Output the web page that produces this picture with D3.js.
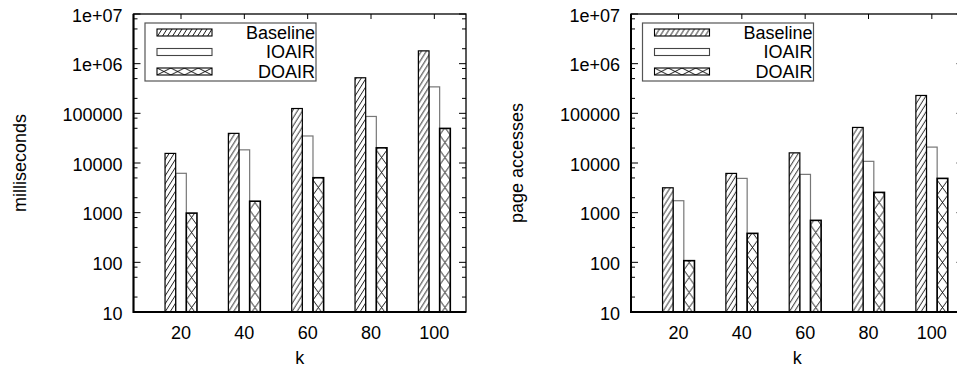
<!DOCTYPE html>
<html>
<head>
<meta charset="utf-8">
<script src="https://cdn.jsdelivr.net/npm/d3@7"></script>
<style>
  html, body { margin: 0; padding: 0; background: #fff; overflow: hidden; }
  text { font-family: "Liberation Sans", Arial, Helvetica, sans-serif; fill: #000; }
</style>
</head>
<body>
<svg id="chart" width="957" height="372"></svg>
<script>
// data
var kLabels = ["20", "40", "60", "80", "100"];
var seriesNames = ["Baseline", "IOAIR", "DOAIR"];

var timeBaseline = [15600, 39500, 125000, 520000, 1810000];
var timeIOAIR    = [6200, 18400, 35000, 86500, 341000];
var timeDOAIR    = [980, 1700, 5050, 20200, 49700];

var pageBaseline = [3170, 6170, 16000, 52000, 229000];
var pageIOAIR    = [1740, 4900, 5900, 10800, 20900];
var pageDOAIR    = [108, 383, 700, 2560, 4900];

var yTickValues = [10, 100, 1000, 10000, 100000, 1000000, 10000000];
var yTickLabels = ["10", "100", "1000", "10000", "100000", "1e+06", "1e+07"];
var yMinorMult = [2, 5, 8];

var svg = d3.select("#chart");
var defs = svg.append("defs");

var PLOT_W = 332.5, PLOT_TOP = 14, PLOT_BOTTOM = 312;
var BAR_FRAC = 0.168;

var yScale = d3.scaleLog().domain([10, 1e7]).range([PLOT_BOTTOM, PLOT_TOP]);

// hatch "/" for Baseline
defs.append("pattern")
    .attr("id", "hatch")
    .attr("patternUnits", "userSpaceOnUse")
    .attr("width", 5).attr("height", 8)
    .append("path")
    .attr("d", "M-1,1.6L1,-1.6M0,8L5,0M4,9.6L6,6.4")
    .attr("stroke", "#000").attr("stroke-width", 0.9);

function crossPattern(id, w, h) {
    defs.append("pattern")
        .attr("id", id)
        .attr("patternUnits", "userSpaceOnUse")
        .attr("width", w).attr("height", h)
        .append("path")
        .attr("d", "M0,0L" + w + "," + h + "M" + w + ",0L0," + h)
        .attr("stroke", "#000").attr("stroke-width", 0.9);
}

var fills = ["url(#hatch)", "#fff", "url(#cross)"];
var strokes = ["#000", "#777", "#000"];
var strokeW = [1.2, 1.2, 1.6];

function drawChart(left, yLabel, series) {
    var x = d3.scaleLinear().domain([-0.75, 4.5]).range([left, left + PLOT_W]);
    var unit = x(1) - x(0);
    var bw = unit * BAR_FRAC;
    var g = svg.append("g");

    // minor and major y ticks, both sides
    var minors = [];
    yTickValues.slice(0, -1).forEach(function(v) {
        yMinorMult.forEach(function(m) { minors.push(v * m); });
    });
    g.selectAll(".ymin").data(minors).enter().append("path")
        .attr("d", function(d) {
            var yy = yScale(d);
            return "M" + left + "," + yy + "h4M" + (left + PLOT_W) + "," + yy + "h-4";
        })
        .attr("stroke", "#000").attr("stroke-width", 1);
    g.selectAll(".ymaj").data(yTickValues).enter().append("path")
        .attr("d", function(d) {
            var yy = yScale(d);
            return "M" + left + "," + yy + "h7M" + (left + PLOT_W) + "," + yy + "h-7";
        })
        .attr("stroke", "#000").attr("stroke-width", 1);

    // x ticks on top and bottom
    g.selectAll(".xt").data(kLabels).enter().append("path")
        .attr("d", function(d, i) {
            return "M" + x(i) + "," + PLOT_TOP + "v5M" + x(i) + "," + PLOT_BOTTOM + "v-5";
        })
        .attr("stroke", "#000").attr("stroke-width", 1);

    g.selectAll(".ylab").data(yTickLabels).enter().append("text")
        .attr("x", left - 11)
        .attr("y", function(d, i) { return yScale(yTickValues[i]) + 7.5; })
        .attr("text-anchor", "end")
        .attr("font-size", 18)
        .text(function(d) { return d; });

    g.selectAll(".xlab").data(kLabels).enter().append("text")
        .attr("x", function(d, i) { return x(i); })
        .attr("y", 339)
        .attr("text-anchor", "middle")
        .attr("font-size", 18)
        .text(function(d) { return d; });

    g.append("text")
        .attr("x", left + PLOT_W / 2).attr("y", 364)
        .attr("text-anchor", "middle").attr("font-size", 18)
        .text("k");

    g.append("text")
        .attr("transform", "translate(" + (left - 108) + "," + ((PLOT_TOP + PLOT_BOTTOM) / 2) + ") rotate(-90)")
        .attr("text-anchor", "middle").attr("font-size", 18)
        .text(yLabel);

    // bars: IOAIR first so neighbours' black edges sit on top
    [1, 0, 2].forEach(function(j) {
        g.selectAll(".bar" + j).data(series[j]).enter().append("g")
            .attr("transform", function(d, i) {
                return "translate(" + (x(i) - 1.5 * bw + j * bw) + ",0)";
            })
            .append("rect")
            .attr("x", 0)
            .attr("y", function(d) { return yScale(d); })
            .attr("width", bw)
            .attr("height", function(d) { return yScale(10) - yScale(d); })
            .attr("fill", fills[j])
            .attr("stroke", strokes[j])
            .attr("stroke-width", strokeW[j]);
    });

    // frame
    g.append("rect")
        .attr("x", left).attr("y", PLOT_TOP)
        .attr("width", PLOT_W).attr("height", PLOT_BOTTOM - PLOT_TOP)
        .attr("fill", "none").attr("stroke", "#000").attr("stroke-width", 1.3);
    g.append("path")
        .attr("d", "M" + left + "," + PLOT_TOP + "V" + PLOT_BOTTOM + "H" + (left + PLOT_W))
        .attr("fill", "none").attr("stroke", "#000").attr("stroke-width", 2);

    // legend
    var lg = g.append("g").attr("transform", "translate(" + left + "," + PLOT_TOP + ")");
    lg.append("rect")
        .attr("x", 11.5).attr("y", 9)
        .attr("width", 171).attr("height", 58)
        .attr("fill", "#fff").attr("stroke", "#555").attr("stroke-width", 1.2);
    var lfill = ["url(#hatch)", "#fff", "url(#lcross)"];
    seriesNames.forEach(function(name, j) {
        var cy = 18.5 + j * 19.5;
        lg.append("g").attr("transform", "translate(23.5," + (cy - 3.5) + ")")
            .append("rect")
            .attr("x", 0).attr("y", 0)
            .attr("width", 55).attr("height", 7)
            .attr("fill", lfill[j])
            .attr("stroke", j == 1 ? "#444" : "#000")
            .attr("stroke-width", 1.1);
        lg.append("text")
            .attr("x", 181.5).attr("y", cy + 6.4)
            .attr("text-anchor", "end").attr("font-size", 18)
            .text(name);
    });
    return bw;
}

var bwGuess = (PLOT_W / 5.25) * BAR_FRAC;
crossPattern("cross", bwGuess, 15);
crossPattern("lcross", 13.75, 7);

drawChart(133.5, "milliseconds", [timeBaseline, timeIOAIR, timeDOAIR]);
drawChart(631, "page accesses", [pageBaseline, pageIOAIR, pageDOAIR]);
</script>
</body>
</html>
